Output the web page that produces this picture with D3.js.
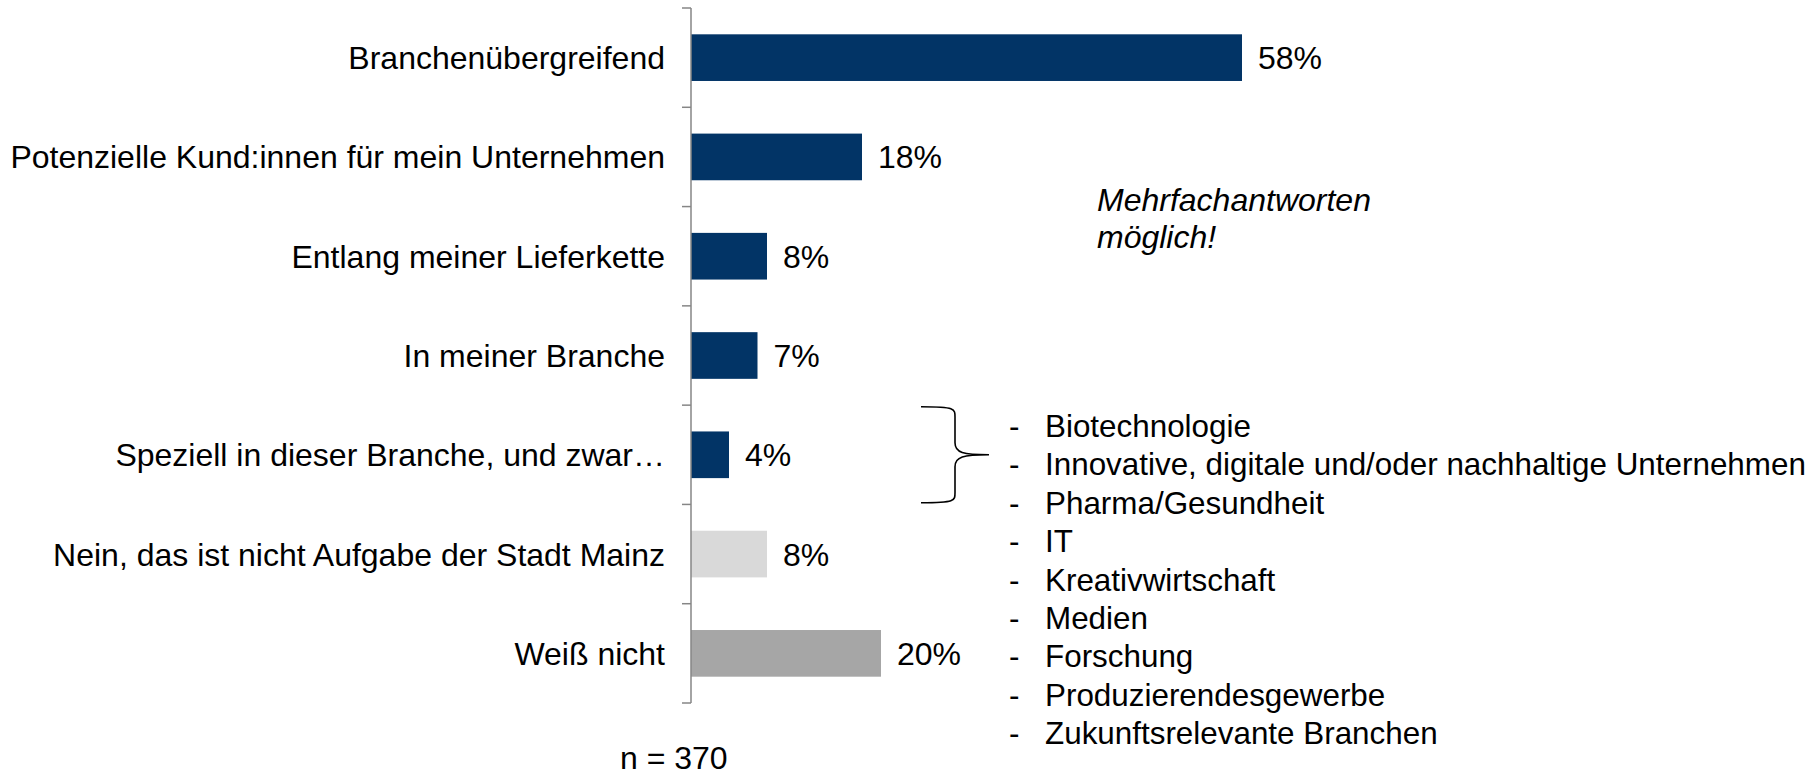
<!DOCTYPE html>
<html>
<head>
<meta charset="utf-8">
<script src="https://cdn.jsdelivr.net/npm/d3@7"></script>
<style>
    body { margin: 0; background: #fff; }
    svg text { font-family: 'Liberation Sans', Arial, sans-serif; fill: #000; }
</style>
</head>
<body>
<div class="chart"></div>
<script>
// Data
const categories = [
    'Branchenübergreifend',
    'Potenzielle Kund:innen für mein Unternehmen',
    'Entlang meiner Lieferkette',
    'In meiner Branche',
    'Speziell in dieser Branche, und zwar…',
    'Nein, das ist nicht Aufgabe der Stadt Mainz',
    'Weiß nicht'
];
const values = [58, 18, 8, 7, 4, 8, 20];
const barGroups = ['ja', 'ja', 'ja', 'ja', 'ja', 'nein', 'weissnicht'];
const branchList = [
    'Biotechnologie',
    'Innovative, digitale und/oder nachhaltige Unternehmen',
    'Pharma/Gesundheit',
    'IT',
    'Kreativwirtschaft',
    'Medien',
    'Forschung',
    'Produzierendesgewerbe',
    'Zukunftsrelevante Branchen'
];
const noteLines = ['Mehrfachantworten', 'möglich!'];
const sampleNote = 'n = 370';

const data = categories.map((c, i) => ({ category: c, value: values[i], group: barGroups[i] }));

// Layout
const svgWidth = 1819;
const svgHeight = 775;
const axisX = 691;
const fontSize = 32;
const listFontSize = 31.4;

const svg = d3.select('.chart')
    .append('svg')
    .attr('width', svgWidth)
    .attr('height', svgHeight);

// Scales
const xScale = d3.scaleLinear()
    .domain([0, 60])
    .range([axisX, axisX + 570]);

const yScale = d3.scaleBand()
    .domain(categories)
    .range([8, 703])
    .paddingInner(0.53)
    .paddingOuter(0.265);

const colorScale = d3.scaleOrdinal()
    .domain(['ja', 'nein', 'weissnicht'])
    .range(['#023466', '#d9d9d9', '#a6a6a6']);

// Bars
svg.selectAll('.bar')
    .data(data)
    .enter()
    .append('rect')
    .attr('class', 'bar')
    .attr('x', xScale(0))
    .attr('y', d => yScale(d.category))
    .attr('width', d => xScale(d.value) - xScale(0))
    .attr('height', yScale.bandwidth())
    .style('fill', d => colorScale(d.group));

// Value labels
svg.selectAll('.value')
    .data(data)
    .enter()
    .append('text')
    .attr('class', 'value')
    .attr('x', d => xScale(d.value) + 16)
    .attr('y', d => yScale(d.category) + yScale.bandwidth() / 2)
    .attr('dy', '0.36em')
    .style('font-size', fontSize + 'px')
    .text(d => d.value + '%');

// Category labels
svg.selectAll('.label')
    .data(data)
    .enter()
    .append('text')
    .attr('class', 'label')
    .attr('x', axisX - 26)
    .attr('y', d => yScale(d.category) + yScale.bandwidth() / 2)
    .attr('dy', '0.36em')
    .style('text-anchor', 'end')
    .style('font-size', fontSize + 'px')
    .text(d => d.category);

// Axis line with ticks between the categories
const [y0, y1] = yScale.range();
const axis = svg.append('g').attr('class', 'y axis');
axis.append('line')
    .attr('x1', axisX).attr('x2', axisX)
    .attr('y1', y0).attr('y2', y1)
    .style('stroke', '#868686')
    .style('stroke-width', 1.5);
axis.selectAll('.tick')
    .data(d3.range(categories.length + 1))
    .enter()
    .append('line')
    .attr('class', 'tick')
    .attr('x1', axisX - 9).attr('x2', axisX)
    .attr('y1', i => y0 + i * yScale.step())
    .attr('y2', i => y0 + i * yScale.step())
    .style('stroke', '#868686')
    .style('stroke-width', 1.5);

// Note
svg.append('text')
    .attr('x', 1097)
    .attr('y', 211)
    .style('font-size', fontSize + 'px')
    .style('font-style', 'italic')
    .selectAll('tspan')
    .data(noteLines)
    .enter()
    .append('tspan')
    .attr('x', 1097)
    .attr('dy', (d, i) => i === 0 ? 0 : 37)
    .text(d => d);

// Brace pointing to the list
const special = categories[4];
const braceMid = yScale(special) + yScale.bandwidth() / 2;
const braceTop = braceMid - 48;
const braceBot = braceMid + 48;
const bx0 = 921, bx1 = 955, bx2 = 989;
const bracePath = `M${bx0},${braceTop} C${bx1 + 2},${braceTop} ${bx1},${braceTop + 2} ${bx1},${braceTop + 12}
    L${bx1},${braceMid - 12} C${bx1},${braceMid - 2} ${bx1 + 8},${braceMid} ${bx2},${braceMid}
    C${bx1 + 8},${braceMid} ${bx1},${braceMid + 2} ${bx1},${braceMid + 12}
    L${bx1},${braceBot - 12} C${bx1},${braceBot - 2} ${bx1 + 2},${braceBot} ${bx0},${braceBot}`;
svg.append('path')
    .attr('d', bracePath)
    .style('fill', 'none')
    .style('stroke', '#000')
    .style('stroke-width', 1.6);

// Branch list
const list = svg.append('g').attr('class', 'branch-list');
list.selectAll('.dash')
    .data(branchList)
    .enter()
    .append('text')
    .attr('class', 'dash')
    .attr('x', 1009)
    .attr('y', (d, i) => 437 + i * 38.4)
    .style('font-size', listFontSize + 'px')
    .text('-');
list.selectAll('.item')
    .data(branchList)
    .enter()
    .append('text')
    .attr('class', 'item')
    .attr('x', 1045)
    .attr('y', (d, i) => 437 + i * 38.4)
    .style('font-size', listFontSize + 'px')
    .text(d => d);

// Sample size
svg.append('text')
    .attr('x', 620)
    .attr('y', 769)
    .style('font-size', fontSize + 'px')
    .text(sampleNote);
</script>
</body>
</html>
